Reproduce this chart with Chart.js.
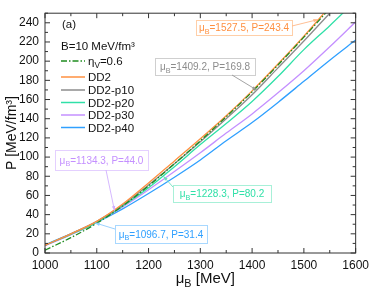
<!DOCTYPE html>
<html>
<head>
<meta charset="utf-8">
<script src="https://cdn.jsdelivr.net/npm/chart.js@4.4.1/dist/chart.umd.min.js"></script>
<style>
  html, body { margin: 0; padding: 0; background: #fff; }
  #wrap { width: 374px; height: 289px; }
</style>
</head>
<body>
<div id="wrap"><canvas id="eosChart" width="374" height="289"></canvas></div>
<script>
// chemical potential grid (MeV)
const muGrid = [1000, 1050, 1100, 1150, 1200, 1250, 1300, 1350, 1400, 1450, 1500, 1550, 1600];

// pressure (MeV/fm^3)
const etaV06 = [3, 16, 31, 49, 70, 93, 117, 142, 168, 196, 225, 255];
const dd2    = [8, 20, 33, 51, 73, 96, 119, 143, 169, 197, 226, 257];
const dd2p10 = [8, 20, 33, 50, 71, 93, 116, 140, 165, 193, 221, 250];
const dd2p20 = [8, 19.5, 32, 49, 68, 90, 113, 135, 158, 184, 212, 237, 263];
const dd2p30 = [7.5, 19, 32, 48, 66, 85, 104.5, 125, 145, 167, 190, 215, 241];
const dd2p40 = [8.5, 20, 32, 46, 62, 79, 97, 117, 136, 157, 179, 201, 222];

// marked points
const noteMu = [1527.5, 1409.2, 1228.3, 1134.3, 1096.7];
const noteP  = [243.4, 169.8, 80.2, 44.0, 31.4];

// ticks
const xTicks = [1000, 1100, 1200, 1300, 1400, 1500, 1600];
const xMinor = [1050, 1150, 1250, 1350, 1450, 1550];
const yTicks = [0, 20, 40, 60, 80, 100, 120, 140, 160, 180, 200, 220, 240];
const yMinor = [10, 30, 50, 70, 90, 110, 130, 150, 170, 190, 210, 230, 250];

const FONT = "'Liberation Sans', Arial, sans-serif";

const colors = {
    eta: '#1f8c1f',
    dd2: '#ff9040',
    p10: '#8c8c8c',
    p20: '#30e0a8',
    p30: '#c490ff',
    p40: '#30a0ff'
};

function toPoints(values) {
    return values.map((v, i) => ({ x: muGrid[i], y: v }));
}

function series(label, values, color, dash) {
    return {
        label: label,
        data: toPoints(values),
        borderColor: color,
        backgroundColor: color,
        borderWidth: 1.3,
        borderDash: dash || [],
        pointRadius: 0,
        cubicInterpolationMode: 'monotone',
        fill: false
    };
}

// draw text with subscript pieces: parts = [[text, isSub], ...]
function richText(ctx, parts, x, y, size, color) {
    ctx.save();
    ctx.fillStyle = color;
    ctx.textBaseline = 'alphabetic';
    ctx.textAlign = 'left';
    let cx = x;
    parts.forEach(([t, sub]) => {
        const s = sub ? size * 0.72 : size;
        ctx.font = s + 'px ' + FONT;
        ctx.fillText(t, cx, sub ? y + size * 0.25 : y);
        cx += ctx.measureText(t).width;
    });
    ctx.restore();
    return cx - x;
}

function richWidth(ctx, parts, size) {
    let w = 0;
    parts.forEach(([t, sub]) => {
        ctx.font = (sub ? size * 0.72 : size) + 'px ' + FONT;
        w += ctx.measureText(t).width;
    });
    return w;
}

function arrow(ctx, x1, y1, x2, y2, color) {
    const a = Math.atan2(y2 - y1, x2 - x1);
    ctx.save();
    ctx.strokeStyle = color;
    ctx.fillStyle = color;
    ctx.lineWidth = 0.9;
    ctx.beginPath();
    ctx.moveTo(x1, y1);
    ctx.lineTo(x2, y2);
    ctx.stroke();
    ctx.beginPath();
    ctx.moveTo(x2, y2);
    ctx.lineTo(x2 - 5 * Math.cos(a - 0.35), y2 - 5 * Math.sin(a - 0.35));
    ctx.lineTo(x2 - 5 * Math.cos(a + 0.35), y2 - 5 * Math.sin(a + 0.35));
    ctx.closePath();
    ctx.fill();
    ctx.restore();
}

const framePlugin = {
    id: 'frame',
    afterDatasetsDraw(chart) {
        const ctx = chart.ctx;
        const { left, right, top, bottom } = chart.chartArea;
        const xs = chart.scales.x, ys = chart.scales.y;

        // frame
        ctx.save();
        ctx.strokeStyle = '#333';
        ctx.lineWidth = 1;
        ctx.strokeRect(left, top, right - left, bottom - top);

        // inward ticks on all sides
        ctx.beginPath();
        const tx = (v, len) => {
            const p = xs.getPixelForValue(v);
            ctx.moveTo(p, bottom); ctx.lineTo(p, bottom - len);
            ctx.moveTo(p, top); ctx.lineTo(p, top + len);
        };
        const ty = (v, len) => {
            const p = ys.getPixelForValue(v);
            ctx.moveTo(left, p); ctx.lineTo(left + len, p);
            ctx.moveTo(right, p); ctx.lineTo(right - len, p);
        };
        xTicks.forEach(v => tx(v, 5));
        xMinor.forEach(v => tx(v, 3));
        yTicks.forEach(v => ty(v, 5));
        yMinor.forEach(v => ty(v, 3));
        ctx.stroke();
        ctx.restore();

        // axis titles
        const xt = [['μ', false], ['B', true], [' [MeV]', false]];
        const xw = richWidth(ctx, xt, 15);
        richText(ctx, xt, (left + right) / 2 - xw / 2 + 5, 283, 15, '#111');

        ctx.save();
        ctx.translate(16, (top + bottom) / 2);
        ctx.rotate(-Math.PI / 2);
        ctx.font = '14px ' + FONT;
        ctx.fillStyle = '#111';
        ctx.textAlign = 'center';
        ctx.fillText('P [MeV/fm³]', 0, 0);
        ctx.restore();

        // legend
        richText(ctx, [['(a)', false]], 62, 28, 11.5, '#111');
        richText(ctx, [['B=10 MeV/fm³', false]], 61, 50, 11.5, '#111');
        const rows = [
            { y: 61, ds: 0, parts: [['η', false], ['V', true], ['=0.6', false]] },
            { y: 77, ds: 1, parts: [['DD2', false]] },
            { y: 90, ds: 2, parts: [['DD2-p10', false]] },
            { y: 102.5, ds: 3, parts: [['DD2-p20', false]] },
            { y: 115, ds: 4, parts: [['DD2-p30', false]] },
            { y: 127.5, ds: 5, parts: [['DD2-p40', false]] }
        ];
        rows.forEach(r => {
            const d = chart.data.datasets[r.ds];
            ctx.save();
            ctx.strokeStyle = d.borderColor;
            ctx.lineWidth = 1.5;
            ctx.setLineDash(d.borderDash);
            ctx.beginPath();
            ctx.moveTo(61, r.y);
            ctx.lineTo(85, r.y);
            ctx.stroke();
            ctx.restore();
            richText(ctx, r.parts, 88, r.y + 4, 11.5, '#111');
        });

        // annotations: box [x, y, w, h], arrow start, colors
        const notes = [
            { box: [196, 20, 96, 15], from: [292, 26], text: colors.dd2, edge: '#ffcfa8', line: '#ffb888' },
            { box: [155, 58, 100, 17], from: [232, 75], text: colors.p10, edge: '#cfcfcf', line: '#999' },
            { box: [173, 185, 98, 17], from: [173, 187], text: colors.p20, edge: '#a8f0d8', line: '#70e0c0' },
            { box: [55, 150, 93, 20], from: [106, 170], text: colors.p30, edge: '#e4d0ff', line: '#d0b0ff' },
            { box: [115, 225, 92, 18], from: [115, 229], text: colors.p40, edge: '#a8d8ff', line: '#90ccff' }
        ];
        notes.forEach((n, i) => {
            const [bx, by, bw, bh] = n.box;
            ctx.save();
            ctx.fillStyle = '#fff';
            ctx.fillRect(bx, by, bw, bh);
            ctx.strokeStyle = n.edge;
            ctx.lineWidth = 1;
            ctx.strokeRect(bx + 0.5, by + 0.5, bw, bh);
            ctx.restore();
            const parts = [['μ', false], ['B', true],
                ['=' + noteMu[i].toFixed(1) + ', P=' + noteP[i].toFixed(1), false]];
            const w = richWidth(ctx, parts, 10);
            richText(ctx, parts, bx + bw / 2 - w / 2, by + bh / 2 + 3.5, 10, n.text);
            arrow(ctx, n.from[0], n.from[1],
                xs.getPixelForValue(noteMu[i]), ys.getPixelForValue(noteP[i]), n.line);
        });
    }
};

const chart = new Chart(document.getElementById('eosChart').getContext('2d'), {
    type: 'line',
    data: {
        datasets: [
            series('ηV=0.6', etaV06, colors.eta, [6, 2, 1.5, 2]),
            series('DD2', dd2, colors.dd2),
            series('DD2-p10', dd2p10, colors.p10),
            series('DD2-p20', dd2p20, colors.p20),
            series('DD2-p30', dd2p30, colors.p30),
            series('DD2-p40', dd2p40, colors.p40)
        ]
    },
    options: {
        responsive: false,
        animation: false,
        devicePixelRatio: 1,
        layout: { padding: { left: 0, right: 15, top: 12, bottom: 0 } },
        plugins: {
            legend: { display: false },
            tooltip: { enabled: false }
        },
        scales: {
            x: {
                type: 'linear',
                min: 1000,
                max: 1600,
                grid: { display: false, drawTicks: false, tickLength: 0 },
                border: { display: false },
                afterBuildTicks: s => { s.ticks = xTicks.map(v => ({ value: v })); },
                afterFit: s => { s.height = 36; },
                ticks: {
                    autoSkip: false,
                    maxRotation: 0,
                    padding: 5,
                    color: '#111',
                    font: { family: FONT, size: 12 },
                    callback: v => String(v)
                }
            },
            y: {
                type: 'linear',
                min: 0,
                max: 250,
                grid: { display: false, drawTicks: false, tickLength: 0 },
                border: { display: false },
                afterBuildTicks: s => { s.ticks = yTicks.map(v => ({ value: v })); },
                afterFit: s => { s.width = 45; },
                ticks: {
                    autoSkip: false,
                    padding: 6,
                    color: '#111',
                    font: { family: FONT, size: 12 },
                    callback: v => String(v)
                }
            }
        }
    },
    plugins: [framePlugin]
});
</script>
</body>
</html>
